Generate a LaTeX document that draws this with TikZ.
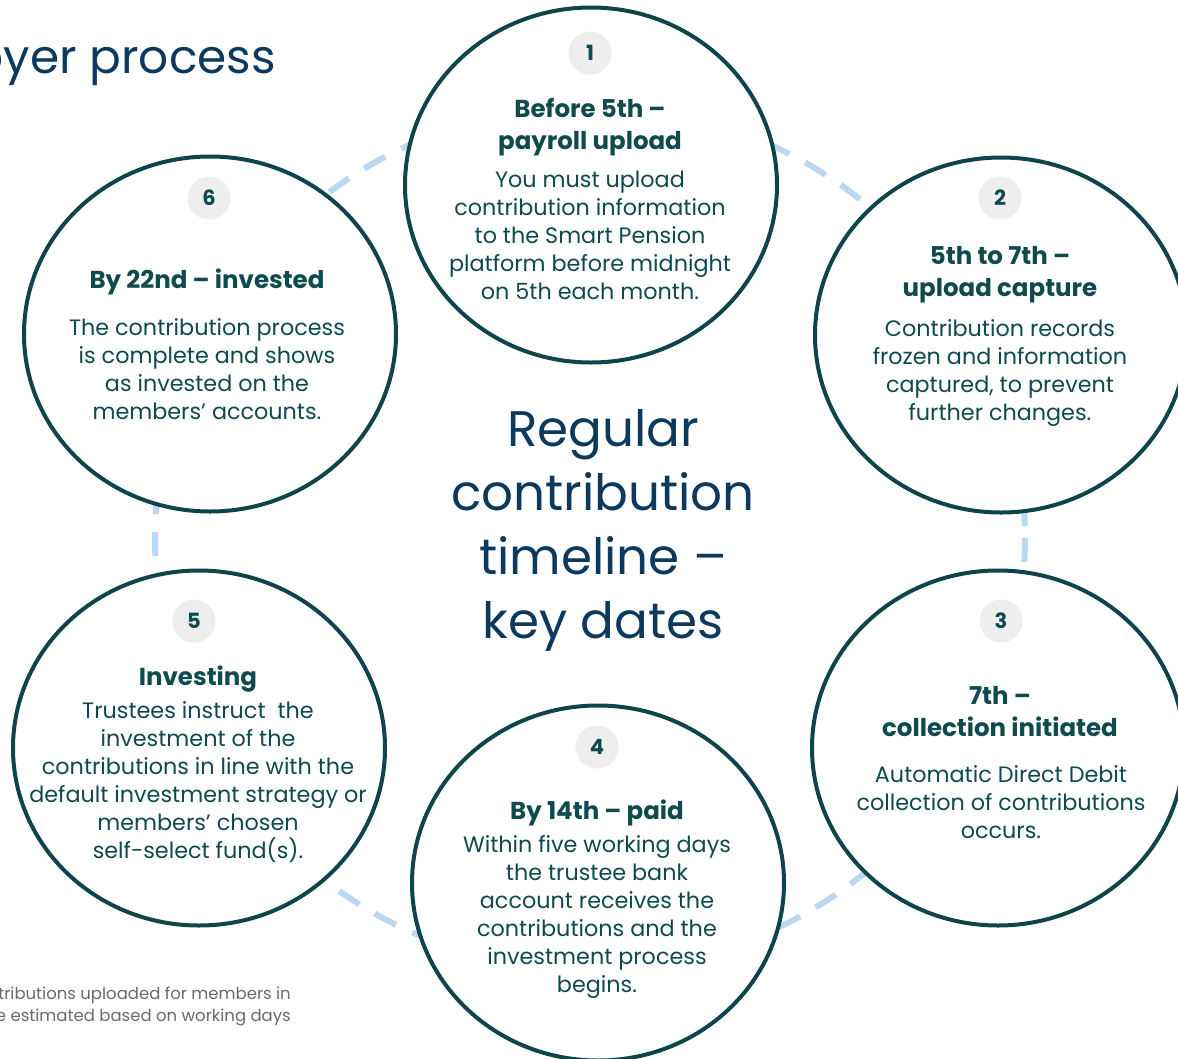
\documentclass[tikz,border=0pt]{standalone}
\usepackage{fontspec}
\setmainfont{Poppins}
\usetikzlibrary{shapes.geometric,positioning}
\definecolor{stageline}{HTML}{0D454A}
\definecolor{stagetext}{HTML}{0E4A4E}
\definecolor{titleblue}{HTML}{0B3A5E}
\definecolor{ringblue}{HTML}{BCD7F1}
\definecolor{badgegrey}{HTML}{EEEEEE}
\definecolor{notegrey}{HTML}{6A6A6A}
\begin{document}
\begin{tikzpicture}[x=1pt,y=-1pt]
\tikzstyle{every node}+=[inner sep=0pt]
\tikzstyle{stage}=[draw=stageline,line width=4pt,fill=white,ellipse,minimum width=372pt,minimum height=355pt]
\tikzstyle{badge}=[circle,fill=badgegrey,minimum size=43pt,text=stagetext,font=\fontsize{21}{21}\selectfont\bfseries]
\tikzstyle{heading}=[align=center,text=stagetext,font=\fontsize{24.5}{32}\selectfont\bfseries]
\tikzstyle{body}=[align=center,text=stagetext,font=\fontsize{22.3}{28}\selectfont]
\clip (0,0) rectangle (1178,1058);
\draw [ringblue,line width=6pt,dash pattern=on 24pt off 18pt] (590,538) ellipse [x radius=435,y radius=432];
\node [stage] (s1) at (591,185) {};
\node [stage] (s2) at (1001,335) {};
\node [stage] (s3) at (998,748) {};
\node [stage] (s4) at (598,883) {};
\node [stage] (s5) at (199,748) {};
\node [stage] (s6) at (210,334) {};
\node [badge] (n1) at (590,53) {1};
\node [badge] (n2) at (1000,198) {2};
\node [badge] (n3) at (1001,621) {3};
\node [badge] (n4) at (597,747) {4};
\node [badge] (n5) at (194,621) {5};
\node [badge] (n6) at (209,198) {6};
\node [heading] (h1) at (590,127) {Before 5th –\\payroll upload};
\node [body] (b1) at (590,235) {You must upload\\contribution information\\to the Smart Pension\\platform before midnight\\on 5th each month.};
\node [heading] (h2) at (1000,275) {5th to 7th –\\upload capture};
\node [body] (b2) at (1000,373) {Contribution records\\frozen and information\\captured, to prevent\\further changes.};
\node [heading] (h3) at (1000,712) {7th –\\collection initiated};
\node [body] (b3) at (1001,802) {Automatic Direct Debit\\collection of contributions\\occurs.};
\node [heading] (h4) at (597,813) {By 14th – paid};
\node [body] (b4) at (597,917) {Within five working days\\the trustee bank\\account receives the\\contributions and the\\investment process\\begins.};
\node [heading] (h5) at (198,679) {Investing};
\node [body] (b5) at (198,782) {Trustees instruct~ the\\investment of the\\contributions in line with the\\default investment strategy or\\members’ chosen\\self-select fund(s).};
\node [heading] (h6) at (207,282) {By 22nd – invested};
\node [body] (b6) at (207,369) {The contribution process\\is complete and shows\\as invested on the\\members’ accounts.};
\node [align=center,text=titleblue,font=\fontsize{50}{64}\selectfont] (title) at (603,530) {Regular\\contribution\\timeline –\\key dates};
\node [anchor=east,text=titleblue,font=\fontsize{47}{58}\selectfont] (head) at (276,62) {Employer process};
\node [anchor=east,align=right,text=notegrey,font=\fontsize{16.5}{22}\selectfont] (note) at (291,1006) {contributions uploaded for members in\\are estimated based on working days};
\end{tikzpicture}
\end{document}
